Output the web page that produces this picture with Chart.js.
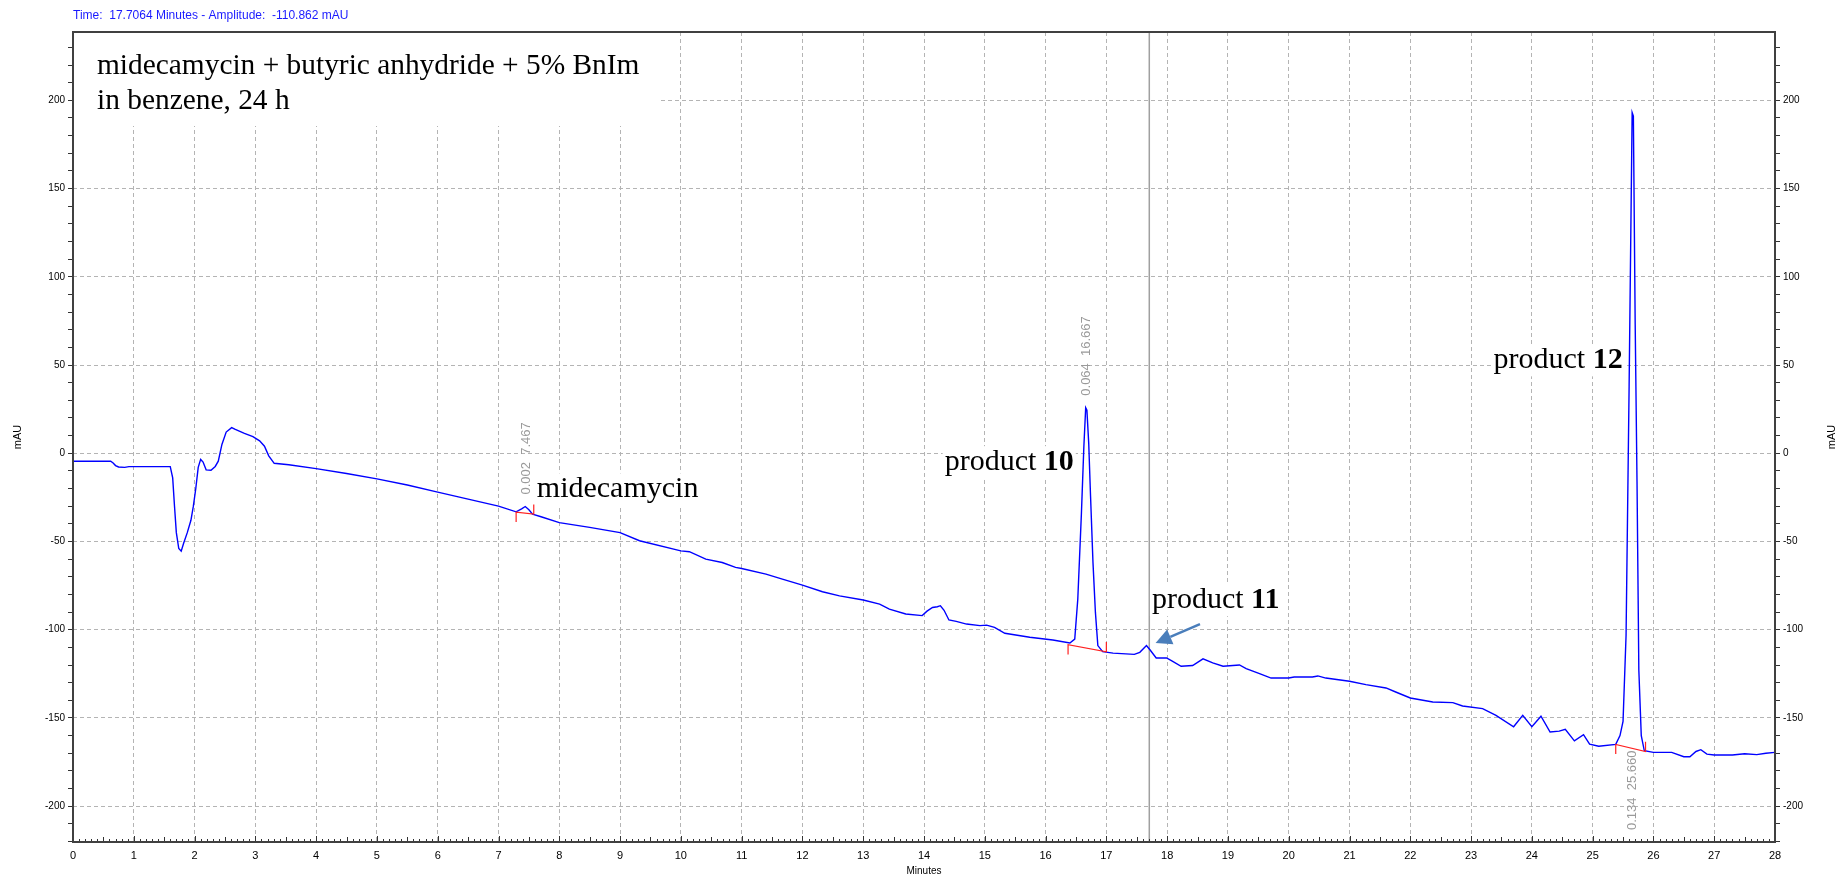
<!DOCTYPE html>
<html>
<head>
<meta charset="utf-8">
<script src="https://cdn.jsdelivr.net/npm/chart.js@4.4.1/dist/chart.umd.min.js"></script>
<style>
html,body{margin:0;padding:0;background:#fff;overflow:hidden}
#wrap{width:1846px;height:880px;position:relative}
</style>
</head>
<body>
<div id="wrap"><canvas id="c" width="1846" height="880"></canvas></div>
<script>
// ---- data (retention time in minutes, signal in mAU) ----
const timeMin = [0.00,0.62,0.66,0.70,0.75,0.85,0.92,1.20,1.60,1.64,1.67,1.70,1.74,1.78,1.82,1.88,1.94,1.98,2.02,2.06,2.10,2.14,2.19,2.27,2.34,2.39,2.45,2.52,2.61,2.67,2.82,2.96,3.07,3.15,3.22,3.31,3.55,4.00,4.50,5.00,5.50,6.00,6.50,7.00,7.29,7.38,7.44,7.50,7.56,7.70,8.00,8.50,9.00,9.32,10.00,10.14,10.41,10.68,10.90,11.00,11.40,11.67,12.00,12.33,12.61,13.00,13.27,13.43,13.70,13.97,14.05,14.14,14.22,14.27,14.33,14.41,14.53,14.70,14.92,15.03,15.16,15.33,15.74,16.12,16.40,16.48,16.53,16.59,16.63,16.66,16.68,16.71,16.74,16.78,16.82,16.86,16.94,17.11,17.46,17.55,17.66,17.72,17.82,17.99,18.07,18.23,18.42,18.59,18.75,18.92,19.19,19.30,19.52,19.71,20.00,20.09,20.39,20.48,20.61,21.00,21.27,21.60,21.76,22.00,22.37,22.70,22.86,23.19,23.41,23.70,23.85,24.00,24.15,24.30,24.45,24.55,24.70,24.85,24.95,25.10,25.38,25.45,25.50,25.55,25.60,25.65,25.67,25.70,25.73,25.76,25.80,25.85,26.00,26.30,26.50,26.60,26.70,26.78,26.88,27.00,27.30,27.50,27.70,27.85,28.00];
const signal  = [-4.5,-4.5,-5.5,-7.0,-7.8,-8.0,-7.6,-7.6,-7.6,-14,-30,-45,-54,-55.5,-51,-45,-38,-30,-20,-8,-3.5,-5,-9.4,-9.6,-7.5,-4.5,5,12,14.5,13.5,11.3,9.4,7,4,-1.5,-5.7,-6.5,-8.7,-11.5,-14.5,-18,-22,-26,-30,-33.2,-31.5,-30.2,-32,-34.5,-36,-39.3,-42,-45,-49.6,-55.3,-55.8,-60,-61.9,-64.7,-65.3,-68.5,-71.3,-74.7,-78.5,-80.8,-83.2,-85.5,-88.3,-91.1,-92,-89.5,-87.4,-87,-86.4,-89,-94.5,-95.3,-96.8,-97.7,-97.4,-98.7,-102,-104.3,-105.8,-107.5,-105.3,-82.7,-33.8,3.8,25.8,24.4,5.6,-24.4,-62,-90.2,-109,-112.4,-113.3,-114,-112.8,-109,-111.5,-116,-116,-117.5,-120.7,-120.3,-116.5,-118.8,-120.7,-120,-122,-124.9,-127.4,-127.4,-126.8,-126.8,-126.2,-127.4,-129.2,-131.1,-133,-135.3,-138.7,-141,-141.3,-143.2,-144.7,-148.5,-155,-148.5,-155,-149,-158,-157.5,-156.5,-163,-159.5,-164.8,-166,-165,-160,-152,-103,38,193,191,73,-16,-123,-160,-168.6,-169.5,-169.5,-172,-172,-169,-168,-170.5,-171,-171,-170.3,-170.8,-170,-169.5];

// axis ranges
const xMin = 0, xMax = 28;
const yMin = -220.3, yMax = 238.7;

// integrated peaks
const peakTimes = [7.467, 16.667, 25.660];
const peakAreas = ['0.002', '0.064', '0.134'];
const peakLabelBelow = [false, false, true];
const baseStartT = [7.29, 16.37, 25.38];
const baseStartV = [-33.4, -108.5, -165];
const baseEndT   = [7.58, 17.00, 25.87];
const baseEndV   = [-34.5, -112.5, -169];
const baseTick = 5.5;

// cursor readout
const cursorTime = 17.7064;
const cursorAmp = -110.862;

// compound annotations
const compoundText = ['midecamycin', 'product ', 'product ', 'product '];
const compoundNum  = ['', '10', '11', '12'];
const compoundX    = [7.63, 14.34, 17.75, 23.37];
const compoundY    = [-25.0, -9.6, -87.8, 48.1];
const arrowFrom = [18.54, -96.8];
const arrowTo   = [17.81, -107.6];

const titleLines = ['midecamycin + butyric anhydride + 5% BnIm', 'in benzene, 24 h'];

const tracePts = timeMin.map((t, i) => ({x: t, y: signal[i]}));
const baselineSets = baseStartT.map((t, i) => ({
  type: 'line',
  data: [
    {x: t, y: baseStartV[i] - baseTick},
    {x: t, y: baseStartV[i]},
    {x: baseEndT[i], y: baseEndV[i]},
    {x: baseEndT[i], y: baseEndV[i] + baseTick}
  ],
  borderColor: '#ff2020', borderWidth: 1.2, pointRadius: 0, tension: 0, order: 0
}));

const SANS = '"Liberation Sans", Arial, sans-serif';
const SERIF = '"Liberation Serif", "Times New Roman", serif';

const decor = {
  id: 'decor',
  beforeDatasetsDraw(chart) {
    const {ctx, chartArea: a, scales: {x, y}} = chart;
    ctx.save();
    // title box
    ctx.fillStyle = '#fff';
    ctx.fillRect(a.left + 1, a.top + 1, 584, 93);
    ctx.fillStyle = '#000';
    ctx.font = '29.4px ' + SERIF;
    ctx.textBaseline = 'alphabetic';
    ctx.textAlign = 'left';
    ctx.fillText(titleLines[0], 97, 74);
    ctx.fillText(titleLines[1], 97, 109);
    // cursor line
    const cx = x.getPixelForValue(cursorTime);
    ctx.strokeStyle = '#a0a0a0';
    ctx.lineWidth = 1.5;
    ctx.beginPath(); ctx.moveTo(cx, a.top); ctx.lineTo(cx, a.bottom); ctx.stroke();
    // compound labels
    compoundText.forEach((t, i) => {
      const px = x.getPixelForValue(compoundX[i]);
      const py = y.getPixelForValue(compoundY[i]);
      ctx.font = '30px ' + SERIF;
      const w1 = ctx.measureText(t).width;
      ctx.font = 'bold 30px ' + SERIF;
      const w2 = ctx.measureText(compoundNum[i]).width;
      ctx.fillStyle = '#fff';
      ctx.fillRect(px - 2, py - 24, w1 + w2 + 4, 32);
      ctx.fillStyle = '#000';
      ctx.font = '30px ' + SERIF;
      ctx.fillText(t, px, py);
      ctx.font = 'bold 30px ' + SERIF;
      ctx.fillText(compoundNum[i], px + w1, py);
    });
    // arrow
    const ax0 = x.getPixelForValue(arrowFrom[0]), ay0 = y.getPixelForValue(arrowFrom[1]);
    const ax1 = x.getPixelForValue(arrowTo[0]), ay1 = y.getPixelForValue(arrowTo[1]);
    const ang = Math.atan2(ay1 - ay0, ax1 - ax0);
    const hl = 16, hw = 8;
    const bx = ax1 - hl * Math.cos(ang), by = ay1 - hl * Math.sin(ang);
    ctx.strokeStyle = '#4a7ebb'; ctx.fillStyle = '#4a7ebb'; ctx.lineWidth = 2.5;
    ctx.beginPath(); ctx.moveTo(ax0, ay0); ctx.lineTo(bx, by); ctx.stroke();
    ctx.beginPath();
    ctx.moveTo(ax1, ay1);
    ctx.lineTo(bx + hw * Math.sin(ang), by - hw * Math.cos(ang));
    ctx.lineTo(bx - hw * Math.sin(ang), by + hw * Math.cos(ang));
    ctx.closePath(); ctx.fill();
    ctx.restore();
  },
  afterDraw(chart) {
    const {ctx, chartArea: a, scales: {x, y}} = chart;
    ctx.save();
    // peak labels
    ctx.fillStyle = '#9a9a9a';
    ctx.font = '13px ' + SANS;
    ctx.textAlign = 'left';
    ctx.textBaseline = 'middle';
    peakTimes.forEach((rt, i) => {
      let top = -Infinity;
      timeMin.forEach((t, j) => { if (Math.abs(t - rt) < 0.06 && signal[j] > top) top = signal[j]; });
      const px = x.getPixelForValue(rt);
      const py = peakLabelBelow[i] ? y.getPixelForValue(-213.5) : y.getPixelForValue(top) - 12;
      ctx.save();
      ctx.translate(px, py);
      ctx.rotate(-Math.PI / 2);
      ctx.fillText(peakAreas[i] + '  ' + rt.toFixed(3), 0, 0);
      ctx.restore();
    });
    // x minor ticks (inward)
    ctx.strokeStyle = '#333';
    ctx.lineWidth = 1;
    for (let k = 0; k <= (xMax - xMin) * 10; k++) {
      const v = xMin + k / 10;
      const px = Math.round(x.getPixelForValue(v)) + 0.5;
      const len = (k % 10 === 0) ? 6 : (k % 5 === 0 ? 5 : 3);
      ctx.beginPath(); ctx.moveTo(px, a.bottom); ctx.lineTo(px, a.bottom - len); ctx.stroke();
    }
    // frame
    ctx.strokeStyle = '#404040';
    ctx.lineWidth = 2;
    ctx.strokeRect(a.left, a.top, a.right - a.left, a.bottom - a.top);
    // cursor readout
    ctx.fillStyle = '#1a1aff';
    ctx.font = '12px ' + SANS;
    ctx.textBaseline = 'middle';
    ctx.fillText('Time:  ' + cursorTime.toFixed(4) + ' Minutes - Amplitude:  ' + cursorAmp.toFixed(3) + ' mAU', a.left, 16);
    // right axis title
    ctx.fillStyle = '#000';
    ctx.font = '11px ' + SANS;
    ctx.save();
    ctx.translate(1832, (a.top + a.bottom) / 2);
    ctx.rotate(-Math.PI / 2);
    ctx.textAlign = 'center';
    ctx.fillText('mAU', 0, 0);
    ctx.restore();
    ctx.restore();
  }
};

const yTickCb = v => (Math.round(v) % 50 === 0 ? String(Math.round(v)) : '');

new Chart(document.getElementById('c'), {
  type: 'line',
  data: {
    datasets: [
      {data: tracePts, borderColor: '#0000ff', borderWidth: 1.4, pointRadius: 0, tension: 0, order: 1},
      ...baselineSets
    ]
  },
  options: {
    responsive: false,
    animation: false,
    devicePixelRatio: 1,
    parsing: true,
    layout: {padding: {top: 32, left: 0, right: 0, bottom: 0}},
    plugins: {legend: {display: false}, tooltip: {enabled: false}},
    scales: {
      x: {
        type: 'linear', position: 'bottom', min: xMin, max: xMax,
        afterFit: s => { s.height = 38; },
        ticks: {stepSize: 1, autoSkip: false, maxRotation: 0, padding: 7,
          color: '#000', font: {family: SANS, size: 11}},
        grid: {color: '#b4b4b4', drawTicks: false, lineWidth: 1},
        border: {display: false, dash: [4, 3]},
        title: {display: true, text: 'Minutes', color: '#000', font: {family: SANS, size: 10}, padding: {top: 0, bottom: 3}}
      },
      y: {
        type: 'linear', position: 'left', min: yMin, max: yMax,
        afterFit: s => { s.width = 73; },
        ticks: {stepSize: 10, includeBounds: false, autoSkip: false, callback: yTickCb, padding: 3,
          color: '#000', font: {family: SANS, size: 10}},
        grid: {color: c => (c.tick && Math.round(c.tick.value) % 50 === 0 ? '#b4b4b4' : 'rgba(0,0,0,0)'),
          tickColor: '#333', tickLength: 5, lineWidth: 1},
        border: {display: false, dash: [4, 3]},
        title: {display: true, text: 'mAU', color: '#000', font: {family: SANS, size: 11}, padding: {top: 11, bottom: 0}}
      },
      y2: {
        type: 'linear', position: 'right', min: yMin, max: yMax,
        afterFit: s => { s.width = 71; },
        ticks: {stepSize: 10, includeBounds: false, autoSkip: false, callback: yTickCb, padding: 3,
          color: '#000', font: {family: SANS, size: 10}},
        grid: {drawOnChartArea: false, tickColor: '#333', tickLength: 5},
        border: {display: false}
      }
    }
  },
  plugins: [decor]
});
</script>
</body>
</html>
